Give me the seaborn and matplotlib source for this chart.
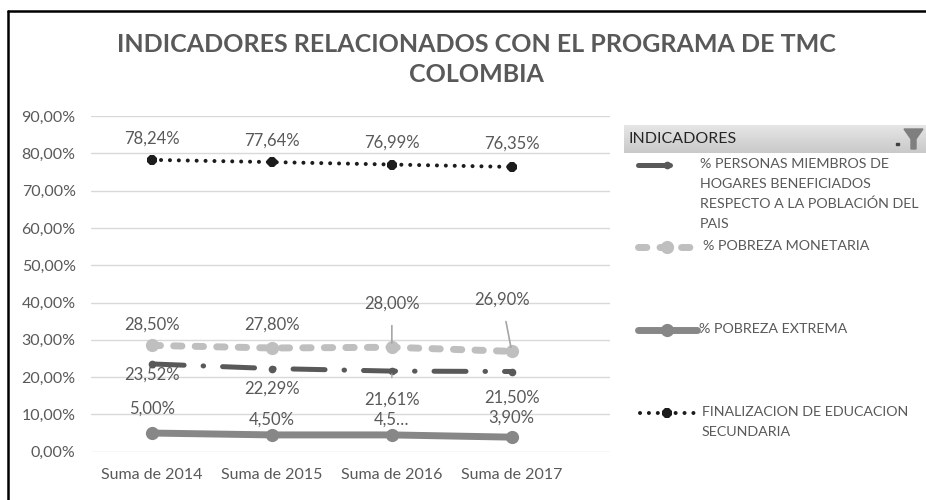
import numpy as np
import pandas as pd
import seaborn as sns
import matplotlib.pyplot as plt
from matplotlib.lines import Line2D
from matplotlib.patches import Polygon, Rectangle

# Chart data (values in %)
categorias = ["Suma de 2014", "Suma de 2015", "Suma de 2016", "Suma de 2017"]
personas = [23.52, 22.29, 21.61, 21.50]
pobreza_monetaria = [28.50, 27.80, 28.00, 26.90]
pobreza_extrema = [5.00, 4.50, 4.50, 3.90]
finalizacion = [78.24, 77.64, 76.99, 76.35]
etiquetas_extrema = ["5,00%", "4,50%", "4,5…", "3,90%"]
nombres = [
    "% PERSONAS MIEMBROS DE\nHOGARES BENEFICIADOS\nRESPECTO A LA POBLACIÓN DEL\nPAIS",
    "% POBREZA MONETARIA",
    "% POBREZA EXTREMA",
    "FINALIZACION DE EDUCACION\nSECUNDARIA",
]
y_ticks = [0, 10, 20, 30, 40, 50, 60, 70, 80, 90]

sns.set_theme(style="white")
plt.rcParams["font.family"] = ["Lato", "DejaVu Sans"]

GRIS_TXT = "#595959"

fig = plt.figure(figsize=(9.26, 5), dpi=100)
ax = fig.add_axes([91 / 926, 1 - 451.7 / 500, 519 / 926, 335.7 / 500])

x = np.arange(len(categorias))
df = pd.DataFrame({
    "x": np.tile(x, 4),
    "valor": personas + pobreza_monetaria + pobreza_extrema + finalizacion,
    "serie": np.repeat(nombres, len(categorias)),
})

# line styles per series
estilos = {
    nombres[0]: dict(color="#595959", lw=3.6, ls=(0, (6.4, 3.8, 0.1, 3.8)),
                     marker="o", ms=5.5),
    nombres[1]: dict(color="#BFBFBF", lw=5, ls=(0, (1.2, 1.9)), marker="o", ms=9.5),
    nombres[2]: dict(color="#878787", lw=5, ls="-", marker="o", ms=9.5),
    nombres[3]: dict(color="#1c1c1c", lw=2.9, ls=(0, (0.01, 2.2)), marker="8", ms=8.5),
}

for nombre in nombres:
    st = estilos[nombre]
    sns.lineplot(data=df[df["serie"] == nombre], x="x", y="valor", ax=ax,
                 color=st["color"], linewidth=st["lw"], linestyle=st["ls"],
                 marker=st["marker"], markersize=st["ms"], markeredgewidth=0,
                 dash_capstyle="round", solid_capstyle="round", legend=False, zorder=3)

# data labels (offsets in pixels)
lab_kw = dict(textcoords="offset pixels", ha="center", va="center",
              fontsize=12, color=GRIS_TXT, zorder=5)
off_fin = [21, 21, 22, 23]
for i, v in enumerate(finalizacion):
    ax.annotate(f"{v:.2f}%".replace(".", ","), (x[i], v), xytext=(0, off_fin[i]), **lab_kw)

off_mon = [(0, 21), (0, 23), (0, 44), (-10, 52)]
for i, v in enumerate(pobreza_monetaria):
    arrow = None
    if i >= 2:
        arrow = dict(arrowstyle="-", color="#A6A6A6", lw=1.2, shrinkA=8, shrinkB=3)
    ax.annotate(f"{v:.2f}%".replace(".", ","), (x[i], v), xytext=off_mon[i],
                arrowprops=arrow, **lab_kw)

off_per = [(0, -11), (0, -20), (0, -29), (0, -26)]
for i, v in enumerate(personas):
    arrow = None
    if i == 2:
        arrow = dict(arrowstyle="-", color="#A6A6A6", lw=1.0, shrinkA=8, shrinkB=2)
    ax.annotate(f"{v:.2f}%".replace(".", ","), (x[i], v), xytext=off_per[i],
                arrowprops=arrow, **lab_kw)

off_ext = [24, 15, 15, 20]
for i, v in enumerate(pobreza_extrema):
    ax.annotate(etiquetas_extrema[i], (x[i], v), xytext=(0, off_ext[i]), **lab_kw)

ax.set_xlim(-0.51, 3.82)
ax.set_ylim(0, 90)
ax.set_yticks(y_ticks)
ax.set_yticklabels([f"{t:.2f}%".replace(".", ",") for t in y_ticks])
ax.set_xticks(x)
ax.set_xticklabels(categorias)
ax.tick_params(axis="y", labelsize=11.5, labelcolor=GRIS_TXT, pad=11, length=0)
ax.tick_params(axis="x", labelsize=11.5, labelcolor=GRIS_TXT, pad=12, length=0)
ax.grid(axis="y", color="#D9D9D9", lw=1)
ax.set_xlabel("")
ax.set_ylabel("")
sns.despine(ax=ax, left=True, bottom=True)

# title
fig.text(476 / 926, 1 - 45 / 500, "INDICADORES RELACIONADOS CON EL PROGRAMA DE TMC",
         ha="center", va="center", fontsize=18, fontweight="bold", color=GRIS_TXT)
fig.text(476 / 926, 1 - 75 / 500, "COLOMBIA",
         ha="center", va="center", fontsize=18, fontweight="bold", color=GRIS_TXT)

# overlay in pixel coordinates for frame and legend
ov = fig.add_axes([0, 0, 1, 1], zorder=10)
ov.patch.set_alpha(0)
ov.axis("off")
ov.add_line(Line2D([8, 8], [11, 500], color="black", lw=1.8))
ov.add_line(Line2D([8, 926], [11, 11], color="black", lw=1.8))

# legend header band
grad = np.linspace(0, 1, 50).reshape(-1, 1)
ov.imshow(grad, extent=[624, 926, 153, 125],
          cmap=sns.blend_palette(["#E6E6E6", "#C9C9C9"], as_cmap=True),
          aspect="auto", zorder=1)
ov.set_xlim(0, 926)
ov.set_ylim(500, 0)
ov.text(628, 139, "INDICADORES", ha="left", va="center", fontsize=11.5, color="#262626", zorder=2)
ov.add_patch(Polygon([[904, 129], [923, 129], [916, 139], [916, 149], [911, 149], [911, 139]],
                     closed=True, color="#7F7F7F", zorder=2))
ov.add_patch(Rectangle((896, 143), 3, 2, color="#404040", zorder=2))

# legend entries
leg_rows = [(165, 638, 680, 667, 700), (247, 638, 700, 667, 703),
            (330, 638, 697, 667, 699), (413, 640, 695, 667, 702)]
for nombre, (yy, x0, x1, xm, xt) in zip(nombres, leg_rows):
    st = estilos[nombre]
    ov.add_line(Line2D([x0, x1], [yy, yy], color=st["color"], lw=st["lw"], ls=st["ls"],
                       dash_capstyle="round", solid_capstyle="round", zorder=2))
    ov.add_line(Line2D([xm], [yy], color=st["color"], marker=st["marker"], ms=st["ms"],
                       mew=0, zorder=2))
    ov.text(xt, yy - 7, nombre, ha="left", va="top", fontsize=10.3, color=GRIS_TXT,
            linespacing=1.78, zorder=2)

fig.savefig("out.png", dpi=100)
